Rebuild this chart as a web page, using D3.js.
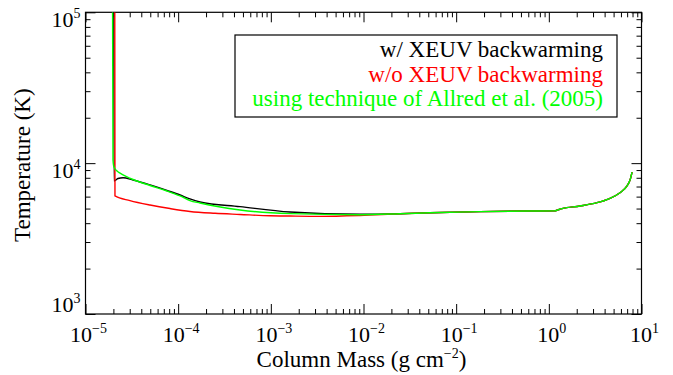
<!DOCTYPE html>
<html>
<head>
<meta charset="utf-8">
<script src="https://cdn.jsdelivr.net/npm/d3@7"></script>
<style>
  body { margin: 0; background: #fff; }
</style>
</head>
<body>
<div id="chart"></div>
<script>
// values (column mass in g cm^-2, temperature in K)
var blackM = [2.02e-5, 2.03e-5, 2.24e-5, 2.54e-5, 3.26e-5, 4.97e-5, 7.57e-5, 1.05e-4, 1.34e-4, 1.72e-4, 4.65e-4, 1.61e-3, 9.16e-3];
var blackT = [1e5, 7620, 7910, 8010, 7730, 7170, 6590, 6150, 5790, 5530, 5150, 4740, 4580];

var redM = [2.07e-5, 2.08e-5, 3.02e-5, 4.97e-5, 8.16e-5, 1.34e-4, 2.5e-4, 4.65e-4, 9.79e-4, 1.61e-3, 3.39e-3, 9.16e-3];
var redT = [1e5, 6060, 5650, 5280, 5000, 4780, 4650, 4570, 4480, 4460, 4440, 4500];

var greenM = [1.96e-5, 1.98e-5, 2.03e-5, 2.19e-5, 2.36e-5, 3.26e-5, 4.97e-5, 7.57e-5, 1.05e-4, 1.34e-4, 1.72e-4, 4.65e-4, 1.61e-3, 9.16e-3];
var greenT = [1e5, 10490, 9420, 8860, 8600, 7790, 7110, 6540, 6060, 5650, 5440, 4890, 4630, 4550];

// all three runs share the deep part
var tailM = [0.0248, 0.0522, 0.181, 0.804, 1.16, 1.25, 1.39, 2.17, 3.31, 4.57, 5.86, 6.98, 7.52, 7.91];
var tailT = [4620, 4690, 4770, 4820, 4830, 4900, 5000, 5200, 5470, 5850, 6370, 7060, 7730, 8730];

var xExps = [-5, -4, -3, -2, -1, 0, 1];
var yExps = [3, 4, 5];
var legendLabels = ["w/ XEUV backwarming", "w/o XEUV backwarming", "using technique of Allred et al. (2005)"];
var colors = ["#000000", "#ff0000", "#00ff00"];

var FONT = "Liberation Serif, serif";

// set the dimensions
var W = 673, H = 375;
var margin = {top: 12.3, right: 31.5, bottom: 61, left: 85.5},
    width = W - margin.left - margin.right,
    height = H - margin.top - margin.bottom;

var svg = d3.select("#chart")
  .append("svg")
    .attr("width", W)
    .attr("height", H)
    .attr("font-family", FONT)
  .append("g")
    .attr("transform", "translate(" + margin.left + "," + margin.top + ")");

var x = d3.scaleLog().domain([1e-5, 10]).range([0, width]);
var y = d3.scaleLog().domain([1e3, 1e5]).range([height, 0]);

// tick values
var xMajor = xExps.map(function(e) { return Math.pow(10, e); });
var xMinor = [];
xExps.slice(0, -1).forEach(function(e) {
  for (var k = 2; k < 10; k++) xMinor.push(k * Math.pow(10, e));
});
var yMajor = yExps.map(function(e) { return Math.pow(10, e); });
var yMinor = [];
yExps.slice(0, -1).forEach(function(e) {
  for (var k = 2; k < 10; k++) yMinor.push(k * Math.pow(10, e));
});

function ticks(axisFn, scale, vals, size, tr) {
  var g = svg.append("g")
    .attr("transform", tr)
    .call(axisFn(scale).tickValues(vals).tickSize(size).tickFormat(""));
  g.select(".domain").remove();
  g.selectAll("line").attr("stroke", "#000").attr("stroke-width", 1);
}

// inward ticks on all four sides
ticks(d3.axisBottom, x, xMajor, -10, "translate(0," + height + ")");
ticks(d3.axisBottom, x, xMinor, -5, "translate(0," + height + ")");
ticks(d3.axisTop, x, xMajor, -10, "translate(0,0)");
ticks(d3.axisTop, x, xMinor, -5, "translate(0,0)");
ticks(d3.axisLeft, y, yMajor, -10, "translate(0,0)");
ticks(d3.axisLeft, y, yMinor, -5, "translate(0,0)");
ticks(d3.axisRight, y, yMajor, -10, "translate(" + width + ",0)");
ticks(d3.axisRight, y, yMinor, -5, "translate(" + width + ",0)");

svg.append("rect")
  .attr("width", width)
  .attr("height", height)
  .attr("fill", "none")
  .attr("stroke", "#000")
  .attr("stroke-width", 1.2);

// tick labels 10^n
function expLabel(sel, e) {
  sel.append("tspan").text("10");
  sel.append("tspan")
    .attr("font-size", 14)
    .attr("dy", -9)
    .text(e < 0 ? "\u2212" + (-e) : e);
}

xExps.forEach(function(e) {
  var t = svg.append("text")
    .attr("x", x(Math.pow(10, e)) + 3)
    .attr("y", height + 28)
    .attr("text-anchor", "middle")
    .attr("font-size", 22);
  expLabel(t, e);
});

yExps.forEach(function(e, i) {
  var t = svg.append("text")
    .attr("x", -5)
    .attr("y", y(Math.pow(10, e)) + (i == 0 ? -2 : 15))
    .attr("text-anchor", "end")
    .attr("font-size", 22);
  expLabel(t, e);
});

// axis titles
var xt = svg.append("text")
  .attr("x", width / 2 - 2)
  .attr("y", height + 53)
  .attr("text-anchor", "middle")
  .attr("font-size", 23);
xt.append("tspan").text("Column Mass (g cm");
xt.append("tspan").attr("font-size", 14).attr("dy", -9).text("\u22122");
xt.append("tspan").attr("dy", 9).text(")");

svg.append("text")
  .attr("transform", "translate(" + (-56) + "," + (height / 2 + 2) + ") rotate(-90)")
  .attr("text-anchor", "middle")
  .attr("font-size", 23)
  .text("Temperature (K)");

// curves
var series = [
  {m: blackM.concat(tailM), t: blackT.concat(tailT), c: colors[0]},
  {m: redM.concat(tailM), t: redT.concat(tailT), c: colors[1]},
  {m: greenM.concat(tailM), t: greenT.concat(tailT), c: colors[2]}
];

svg.append("clipPath").attr("id", "clip")
  .append("rect").attr("width", width).attr("height", height);

var line = d3.line()
  .x(function(d) { return x(d[0]); })
  .y(function(d) { return y(d[1]); })
  .curve(d3.curveMonotoneX);

series.forEach(function(s) {
  var pts = s.m.map(function(m, i) { return [m, s.t[i]]; });
  svg.append("path")
    .datum(pts)
    .attr("clip-path", "url(#clip)")
    .attr("fill", "none")
    .attr("stroke", s.c)
    .attr("stroke-width", 1.4)
    .attr("d", line);
});

// legend
var lg = svg.append("g").attr("transform", "translate(" + (235 - margin.left) + "," + (35 - margin.top) + ")");
lg.append("rect")
  .attr("width", 382)
  .attr("height", 82)
  .attr("fill", "#fff")
  .attr("stroke", "#000")
  .attr("stroke-width", 1.2);
legendLabels.forEach(function(l, i) {
  lg.append("text")
    .attr("x", 368)
    .attr("y", 22 + i * 24.5)
    .attr("text-anchor", "end")
    .attr("font-size", 23)
    .attr("fill", colors[i])
    .text(l);
});
</script>
</body>
</html>
